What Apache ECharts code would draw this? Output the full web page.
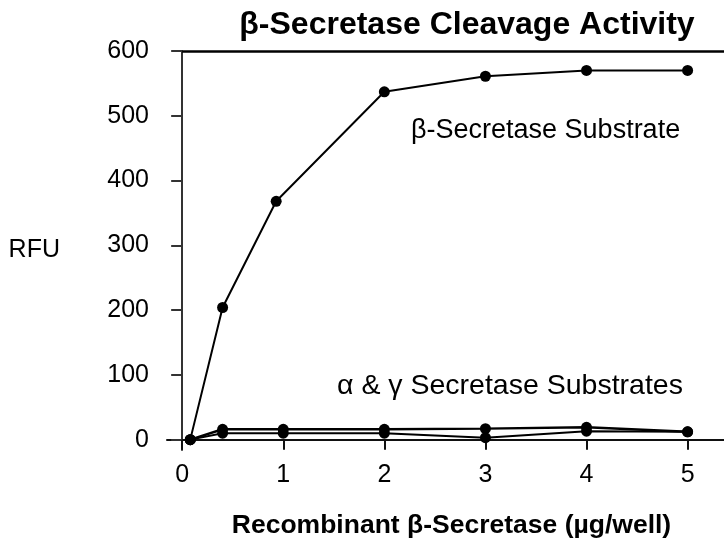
<!DOCTYPE html>
<html><head><meta charset="utf-8">
<script src="https://cdn.jsdelivr.net/npm/echarts@6/dist/echarts.min.js"></script>
<style>html,body{margin:0;padding:0;background:#fff}#c{width:724px;height:544px}</style>
</head><body><div id="c"></div>
<script>
var xTicks = [0, 1, 2, 3, 4, 5];
var yTicks = [0, 100, 200, 300, 400, 500, 600];
var betaX = [0.08, 0.4, 0.93, 2, 3, 4, 5];
var betaY = [0, 204, 368, 537, 561, 570, 570];
var alphaX = [0.08, 0.4, 1, 2, 3, 4, 5];
var alphaY = [0, 16, 16, 16, 17, 19, 12];
var gammaX = [0.08, 0.4, 1, 2, 3, 4, 5];
var gammaY = [0, 10, 10, 10, 3, 13, 12];

function pairs(xs, ys){ return xs.map(function(x,i){return [x, ys[i]];}); }
var F = 'Liberation Sans, Arial, sans-serif';
var chart = echarts.init(document.getElementById('c'));
chart.setOption({
  animation: false,
  backgroundColor: '#fff',
  title: {
    text: 'β-Secretase Cleavage Activity',
    left: 462, top: 4, textAlign: 'center',
    textStyle: {fontFamily: F, fontWeight: 'bold', fontSize: 32, color: '#000'}
  },
  grid: {left: 167, right: 0, top: 51, bottom: 93},
  xAxis: {
    type: 'value', min: -0.15, max: 5.36,
    name: 'Recombinant β-Secretase (µg/well)', nameLocation: 'middle', nameGap: 62,
    nameTextStyle: {fontFamily: F, fontWeight: 'bold', fontSize: 26.5, color: '#000', padding: [0, 0, 0, 12]},
    axisLine: {onZero: true, lineStyle: {color: '#111', width: 2}},
    axisTick: {show: true, inside: false, length: 10, customValues: xTicks, lineStyle: {color: '#111', width: 2}},
    axisLabel: {customValues: xTicks, margin: 13, fontFamily: F, fontSize: 25, color: '#000'},
    splitLine: {show: false}
  },
  yAxis: {
    type: 'value', min: -16, max: 600,
    name: 'RFU', nameLocation: 'middle', nameRotate: 0, nameGap: 107,
    nameTextStyle: {fontFamily: F, fontSize: 25, color: '#000'},
    axisLine: {onZero: true, onZeroAxisIndex: 0, lineStyle: {color: '#333', width: 2}},
    axisTick: {show: true, inside: false, length: 11, customValues: yTicks, lineStyle: {color: '#333', width: 2}},
    axisLabel: {customValues: yTicks, margin: 18, fontFamily: F, fontSize: 25, color: '#000', padding: [4, 0, 0, 0]},
    splitLine: {show: false}
  },
  graphic: [
    {type: 'text', left: 411, top: 117, style: {text: 'β-Secretase Substrate', fontFamily: F, fontSize: 27, fill: '#000'}},
    {type: 'text', left: 337, top: 372, style: {text: 'α & γ Secretase Substrates', fontFamily: F, fontSize: 28.5, fill: '#000'}}
  ],
  series: [
    {type: 'line', data: pairs(gammaX, gammaY), symbol: 'circle', symbolSize: 11,
     itemStyle: {color: '#000'}, lineStyle: {color: '#000', width: 2}},
    {type: 'line', data: pairs(alphaX, alphaY), symbol: 'circle', symbolSize: 11,
     itemStyle: {color: '#000'}, lineStyle: {color: '#000', width: 2.5}},
    {type: 'line', data: pairs(betaX, betaY), symbol: 'circle', symbolSize: 11,
     itemStyle: {color: '#000'}, lineStyle: {color: '#000', width: 2},
     markLine: {silent: true, symbol: 'none', label: {show: false},
       lineStyle: {color: '#000', width: 2.5, type: 'solid'},
       data: [[{coord: [0, 600]}, {coord: [5.36, 600]}]]}}
  ]
});
</script></body></html>
